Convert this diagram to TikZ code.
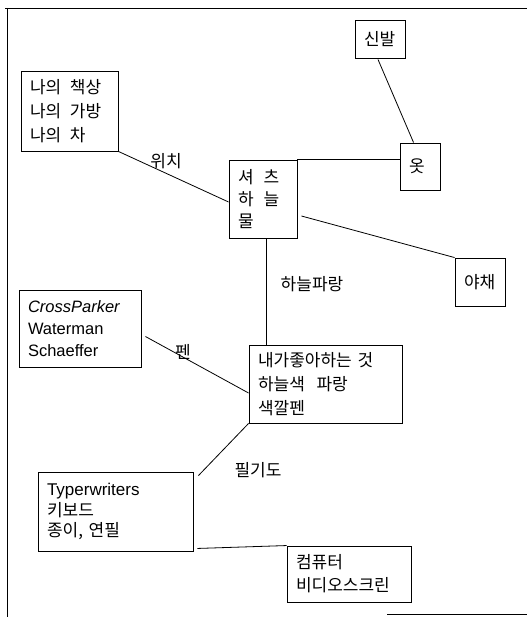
\documentclass[tikz,border=0pt]{standalone}
\usepackage{fontspec}
\setmainfont{Liberation Sans}
\newfontfamily\kr{Noto Sans CJK KR}
\usetikzlibrary{calc}
\begin{document}
\begin{tikzpicture}[x=1pt,y=-1pt,
  box/.style={draw, line width=0.9pt, inner xsep=9pt, inner ysep=0pt, align=left, anchor=center,
    font=\kr\fontsize{17}{24}\selectfont},
  conn/.style={line width=0.8pt},
  lbl/.style={font=\kr\fontsize{17}{20}\selectfont, inner sep=0pt}]
\useasboundingbox (0,0) rectangle (527,617);
% frame
\draw[line width=0.9pt] (5,8) -- (527,8);
\draw[line width=0.9pt] (7,8) -- (7,617);
\draw[line width=0.9pt] (387,614) -- (527,614);
% boxes
\node[box, text width=32pt, minimum height=38pt] (shoes) at (380,39) {신발};
\node[box, text width=79pt, minimum height=80pt] (mine) at (69.5,111) {나의\hspace{3pt} 책상\\나의\hspace{3pt} 가방\\나의\hspace{3pt} 차};
\node[box, text width=22pt, minimum height=47pt] (clothes) at (420,166.5) {옷};
\node[box, text width=50pt, minimum height=78pt, font=\kr\fontsize{17}{22}\selectfont] (shirt) at (263,199) {셔\hspace{10pt}츠\\하\hspace{10pt}늘\\물};
\node[box, text width=32pt, minimum height=48pt] (veg) at (480,282) {야채};
\node[box, text width=104pt, minimum height=77pt, font=\fontsize{16.5}{22}\selectfont] (pens) at (80,328.5) {\textit{CrossParker}\\Waterman\\Schaeffer};
\node[box, text width=135pt, minimum height=78pt] (fav) at (325.5,384) {내가좋아하는 것\\하늘색\hspace{6pt} 파랑\\색깔펜};
\node[box, text width=137pt, minimum height=79pt, font=\kr\fontsize{17}{20.5}\selectfont] (typ) at (115.5,511.5) {{\rmfamily\fontsize{17}{20.5}\selectfont Typerwriters}\\키보드\\종이, 연필};
\node[box, text width=106pt, minimum height=56pt, font=\kr\fontsize{17}{23}\selectfont] (comp) at (349,574) {컴퓨터\\비디오스크린};
% connector end points
\coordinate (sb) at ($(shirt.south)+(3,0)$);
\coordinate (ft) at (sb |- fav.north);
% connectors
\draw[conn] ($(shoes.south)+(-2,1)$) -- ($(clothes.north west)+(14,0)$);
\draw[conn] (mine.south east) -- ($(shirt.west)+(0,3)$);
\draw[conn] (shirt.north east) -- (shirt.north east -| clothes.west);
\draw[conn] ($(shirt.east)+(4,17)$) -- (veg.north west);
\draw[conn] (sb) -- (ft);
\draw[conn] ($(pens.east)+(4,8)$) -- ($(fav.west)+(0,9)$);
\draw[conn] (fav.south west) -- ($(typ.north east)+(5,4)$);
\draw[conn] ($(typ.south east)+(4,-3)$) -- (comp.north west);
% labels
\node[lbl] (l1) at (166,161) {위치};
\node[lbl] (l2) at (312,284) {하늘파랑};
\node[lbl] (l3) at (183,352) {펜};
\node[lbl] (l4) at (258,470) {필기도};
\end{tikzpicture}
\end{document}
